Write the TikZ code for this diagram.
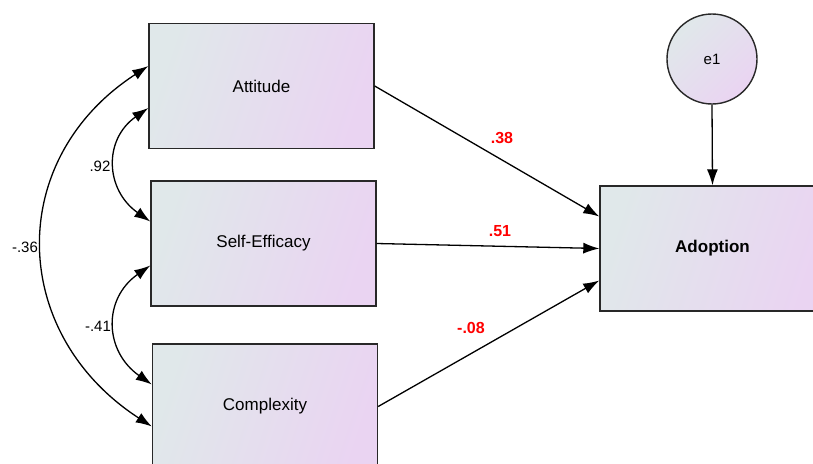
\documentclass[tikz,border=0pt]{standalone}
\usepackage{fontspec}
\setmainfont{Liberation Sans}
\usetikzlibrary{arrows.meta}

\definecolor{fondgauche}{RGB}{224,232,234}
\definecolor{fonddroit}{RGB}{234,212,242}
\definecolor{bord}{RGB}{40,40,40}

\begin{document}
\begin{tikzpicture}[x=1pt, y=1pt,
    var/.style={rectangle, draw=bord, line width=1.4pt, left color=fondgauche, right color=fonddroit,
                shading angle=72, minimum width=225pt, minimum height=125pt,
                font=\fontsize{17}{20}\selectfont},
    err/.style={circle, draw=bord, line width=1.4pt, left color=fondgauche, right color=fonddroit,
                shading angle=45, minimum size=90pt, font=\fontsize{15}{18}\selectfont},
    fleche/.style={line width=1.3pt, -{Latex[length=16pt,width=11pt]}},
    cov/.style={line width=1.3pt, {Latex[length=16pt,width=11pt]}-{Latex[length=16pt,width=11pt]}},
    coef/.style={font=\fontsize{15}{18}\selectfont},
    poids/.style={text=red, font=\fontsize{16}{19}\selectfont\bfseries}]

    % Cadre de la figure
    \clip (0,0) rectangle (813,-463);

    % Variables observées
    \node[var] (att) at (261.5,-86) {Attitude};
    \node[var] (eff) at (263.5,-243.5) {Self-Efficacy};
    \node[var] (cpx) at (265,-406.5) {Complexity};
    \node[var, font=\fontsize{17}{20}\selectfont\bfseries] (adop) at (712.5,-248.5) {Adoption};

    % Erreur
    \node[err] (e1) at (712,-59) {e1};

    % Effets directs
    \draw[fleche] (att.east) -- ([yshift=32pt]adop.west);
    \draw[fleche] (eff.east) -- (adop.west);
    \draw[fleche] (cpx.east) -- ([yshift=-32pt]adop.west);
    \draw[fleche] (e1.south) -- (adop.north);

    \node[poids] (p1) at (502,-138) {.38};
    \node[poids] (p2) at (500,-231) {.51};
    \node[poids] (p3) at (471,-328) {-.08};

    % Covariances
    \draw[cov] ([yshift=-22pt]att.west) to[out=215, in=145, looseness=1.24] ([yshift=22pt]eff.west);
    \draw[cov] ([yshift=-22pt]eff.west) to[out=215, in=145, looseness=1.25] ([yshift=22pt]cpx.west);
    \draw[cov] ([yshift=20pt]att.west) to[out=213, in=147, looseness=1.21] ([yshift=-20pt]cpx.west);

    \node[coef] (c1) at (100,-166) {.92};
    \node[coef] (c2) at (98,-326) {-.41};
    \node[coef] (c3) at (25,-247) {-.36};
\end{tikzpicture}
\end{document}
